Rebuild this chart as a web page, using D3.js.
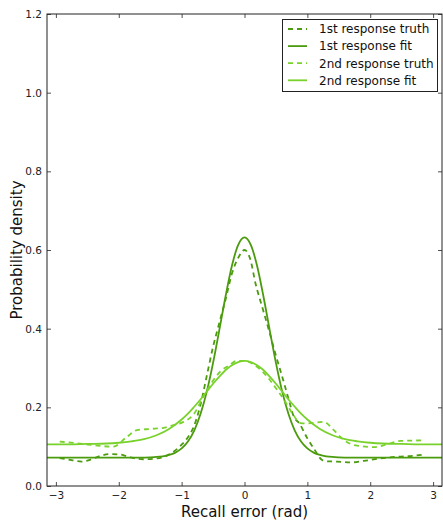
<!DOCTYPE html>
<html><head><meta charset="utf-8">
<script src="https://cdn.jsdelivr.net/npm/d3@7"></script>
<style>body{margin:0;background:#fff}svg{display:block}</style>
</head><body><svg id="c" width="443" height="527"></svg>
<script>
// ---- data ----
const xTicks = [-3, -2, -1, 0, 1, 2, 3];
const yTicks = [0.0, 0.2, 0.4, 0.6, 0.8, 1.0, 1.2];
const seriesNames = ["1st response truth", "1st response fit", "2nd response truth", "2nd response fit"];

const truth1X = [-2.94,-2.75,-2.59,-2.45,-2.3,-2.14,-1.98,-1.82,-1.61,-1.4,-1.25,-1.15,-1.0,-0.9,-0.81,-0.71,-0.6,-0.5,-0.4,-0.3,-0.2,-0.1,0.0,0.095,0.175,0.28,0.387,0.49,0.6,0.705,0.785,0.87,1.0,1.1,1.235,1.3,1.475,1.69,1.9,2.165,2.43,2.7,2.86];
const truth1Y = [0.071,0.066,0.062,0.067,0.076,0.081,0.080,0.073,0.068,0.070,0.076,0.085,0.105,0.124,0.150,0.200,0.280,0.354,0.415,0.475,0.540,0.580,0.600,0.575,0.515,0.456,0.397,0.337,0.278,0.219,0.176,0.160,0.121,0.096,0.066,0.063,0.062,0.060,0.064,0.070,0.0745,0.077,0.080];

const fit1X = [-3.1416,-2.5,-2.0,-1.7,-1.5,-1.4,-1.3,-1.2,-1.1,-1.0,-0.9,-0.8,-0.7,-0.6,-0.5,-0.4,-0.3,-0.2,-0.1,0.0,0.1,0.2,0.3,0.4,0.5,0.6,0.7,0.8,0.9,1.0,1.1,1.2,1.3,1.4,1.5,1.7,2.0,2.5,3.1416];
const fit1Y = [0.072,0.072,0.072,0.0722,0.0729,0.0738,0.0756,0.0789,0.0849,0.0955,0.113,0.141,0.183,0.240,0.313,0.397,0.483,0.560,0.613,0.632,0.613,0.560,0.483,0.397,0.313,0.240,0.183,0.141,0.113,0.0955,0.0849,0.0789,0.0756,0.0738,0.0729,0.0722,0.072,0.072,0.072];

const truth2X = [-2.94,-2.62,-2.30,-2.09,-1.87,-1.71,-1.50,-1.29,-1.13,-0.97,-0.82,-0.63,-0.53,-0.39,-0.23,-0.13,0.0,0.2,0.36,0.52,0.63,0.76,0.89,1.0,1.26,1.42,1.58,1.79,2.06,2.27,2.48,2.86];
const truth2Y = [0.113,0.108,0.102,0.100,0.125,0.142,0.145,0.148,0.155,0.163,0.180,0.234,0.261,0.290,0.308,0.318,0.318,0.303,0.278,0.244,0.219,0.185,0.160,0.159,0.163,0.142,0.117,0.1025,0.099,0.106,0.1145,0.116];

const fit2X = [-3.1416,-2.8,-2.5,-2.2,-2.0,-1.8,-1.6,-1.4,-1.2,-1.0,-0.9,-0.8,-0.7,-0.6,-0.5,-0.4,-0.3,-0.2,-0.1,0.0,0.1,0.2,0.3,0.4,0.5,0.6,0.7,0.8,0.9,1.0,1.2,1.4,1.6,1.8,2.0,2.2,2.5,2.8,3.1416];
const fit2Y = [0.106,0.106,0.107,0.108,0.110,0.1135,0.119,0.129,0.145,0.169,0.184,0.2015,0.220,0.240,0.260,0.278,0.295,0.307,0.315,0.318,0.315,0.307,0.295,0.278,0.260,0.240,0.220,0.2015,0.184,0.169,0.145,0.129,0.119,0.1135,0.110,0.108,0.107,0.106,0.106];

const colors = ["#4b9b0e", "#4b9b0e", "#79d22c", "#79d22c"];
const dashed = [true, false, true, false];

// ---- layout ----
const L = 47, R = 442, T = 14, B = 486;
const svg = d3.select("#c");
const x = d3.scaleLinear().domain([-Math.PI, Math.PI]).range([L, R]);
const y = d3.scaleLinear().domain([0, 1.2]).range([B, T]);
const font = "DejaVu Sans, sans-serif";

svg.append("clipPath").attr("id","clp").append("rect")
  .attr("x",L).attr("y",T).attr("width",R-L).attr("height",B-T);

const series = [
  {xs: truth1X, ys: truth1Y},
  {xs: fit1X, ys: fit1Y},
  {xs: truth2X, ys: truth2Y},
  {xs: fit2X, ys: fit2Y}
];
const line = d3.line().x(d=>x(d[0])).y(d=>y(d[1])).curve(d3.curveMonotoneX);
const gl = svg.append("g").attr("clip-path","url(#clp)");
[0,1,2,3].forEach(i=>{
  const s = series[i];
  const pts = s.xs.map((v,k)=>[v, s.ys[k]]);
  gl.append("path").datum(pts)
    .attr("d", line)
    .attr("fill","none").attr("stroke",colors[i])
    .attr("stroke-width",1.8)
    .attr("stroke-dasharray", dashed[i] ? "5,4" : null);
});

// axes (ticks inward, on all four sides)
const tickLen = 4;
const axB = d3.axisBottom(x).tickValues(xTicks).tickSize(-tickLen).tickPadding(6)
  .tickFormat(d=> d<0 ? "\u2212"+Math.abs(d) : String(d));
const axT = d3.axisTop(x).tickValues(xTicks).tickSize(-tickLen).tickFormat("");
const axL = d3.axisLeft(y).tickValues(yTicks).tickSize(-tickLen).tickPadding(5)
  .tickFormat(d3.format(".1f"));
const axR = d3.axisRight(y).tickValues(yTicks).tickSize(-tickLen).tickFormat("");

function styleAxis(g){
  g.select(".domain").remove();
  g.selectAll(".tick line").attr("stroke","#222").attr("stroke-width",0.8);
  g.selectAll("text").attr("fill","#222").style("font-family",font).style("font-size","10.5px");
}
svg.append("g").attr("transform",`translate(0,${B})`).call(axB).call(styleAxis);
svg.append("g").attr("transform",`translate(0,${T})`).call(axT).call(styleAxis);
svg.append("g").attr("transform",`translate(${L},0)`).call(axL).call(styleAxis);
svg.append("g").attr("transform",`translate(${R},0)`).call(axR).call(styleAxis);

svg.append("rect").attr("x",L).attr("y",T).attr("width",R-L).attr("height",B-T)
  .attr("fill","none").attr("stroke","#222").attr("stroke-width",1);

// axis labels
svg.append("text").attr("x",(L+R)/2).attr("y",517).attr("text-anchor","middle")
  .style("font-family",font).style("font-size","15px").attr("fill","#111").text("Recall error (rad)");
svg.append("text").attr("transform",`translate(22,${(T+B)/2}) rotate(-90)`).attr("text-anchor","middle")
  .style("font-family",font).style("font-size","15px").attr("fill","#111").text("Probability density");

// legend
const lg = svg.append("g");
lg.append("rect").attr("x",282.5).attr("y",19.5).attr("width",155).attr("height",72)
  .attr("fill","#fff").attr("stroke","#222").attr("stroke-width",1);
seriesNames.forEach((n,i)=>{
  const yy = 29 + i*17.1;
  lg.append("line").attr("x1",288).attr("x2",307).attr("y1",yy).attr("y2",yy)
    .attr("stroke",colors[i]).attr("stroke-width",1.8)
    .attr("stroke-dasharray", dashed[i] ? "5,4" : null);
  lg.append("text").attr("x",319).attr("y",yy+4.3)
    .style("font-family",font).style("font-size","12px").attr("fill","#111").text(n);
});
</script>
</body></html>
